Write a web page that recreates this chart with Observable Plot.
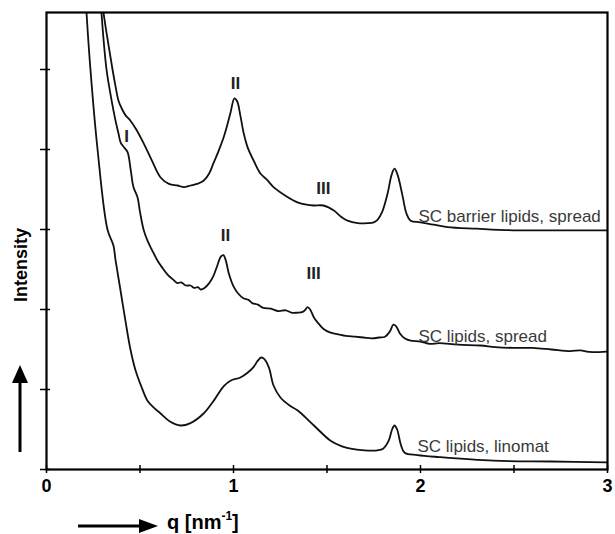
<!DOCTYPE html>
<html><head><meta charset="utf-8">
<script src="https://cdn.jsdelivr.net/npm/d3@7"></script>
<script src="https://cdn.jsdelivr.net/npm/@observablehq/plot@0.6"></script>
<style>body{margin:0;background:#fff} svg{display:block}</style>
</head><body><div id="chart"></div>
<script>
// SC barrier lipids, spread
const qBarrier = [0.29,0.305,0.33,0.353,0.37,0.385,0.405,0.422,0.449,0.48,0.519,0.56,0.61,0.655,0.701,0.735,0.77,0.805,0.84,0.87,0.893,0.92,0.947,0.966,0.984,1.005,1.02,1.037,1.055,1.075,1.11,1.144,1.18,1.214,1.28,1.342,1.39,1.428,1.481,1.535,1.575,1.61,1.665,1.717,1.75,1.77,1.795,1.824,1.845,1.861,1.878,1.904,1.925,1.947,2.0,2.07,2.144,2.3,2.497,2.75,3.0];
const iBarrier = [6.1,5.71,5.33,5.0,4.78,4.61,4.50,4.43,4.36,4.25,4.08,3.88,3.65,3.57,3.55,3.53,3.55,3.57,3.61,3.70,3.83,3.98,4.15,4.30,4.46,4.64,4.60,4.42,4.20,4.03,3.85,3.70,3.62,3.53,3.42,3.34,3.31,3.30,3.30,3.24,3.16,3.11,3.08,3.08,3.09,3.12,3.22,3.45,3.68,3.76,3.68,3.42,3.20,3.11,3.09,3.06,3.03,3.01,2.99,2.99,2.99];
// SC lipids, spread
const qSpread = [0.28,0.294,0.321,0.34,0.358,0.372,0.385,0.396,0.41,0.433,0.45,0.465,0.487,0.50,0.519,0.54,0.565,0.594,0.62,0.65,0.679,0.70,0.72,0.745,0.77,0.79,0.81,0.824,0.845,0.87,0.893,0.915,0.932,0.946,0.958,0.975,1.0,1.025,1.053,1.08,1.10,1.13,1.16,1.20,1.24,1.28,1.31,1.342,1.37,1.385,1.396,1.41,1.43,1.449,1.48,1.519,1.56,1.60,1.65,1.695,1.74,1.78,1.81,1.835,1.855,1.87,1.89,1.915,1.947,2.0,2.05,2.1,2.2,2.321,2.4,2.5,2.6,2.7,2.8,2.856,2.9,3.0];
const iSpread = [6.3,5.71,5.0,4.72,4.49,4.33,4.20,4.09,4.04,3.97,3.75,3.53,3.40,3.22,3.00,2.86,2.74,2.61,2.52,2.43,2.37,2.33,2.34,2.30,2.30,2.27,2.28,2.25,2.27,2.33,2.42,2.56,2.66,2.68,2.62,2.45,2.29,2.20,2.14,2.12,2.08,2.06,2.02,2.01,1.98,1.99,1.96,1.96,1.97,2.00,2.03,2.00,1.90,1.84,1.76,1.71,1.69,1.67,1.66,1.65,1.64,1.65,1.66,1.72,1.81,1.79,1.70,1.64,1.61,1.60,1.57,1.58,1.56,1.55,1.53,1.52,1.52,1.50,1.48,1.49,1.47,1.475];
// SC lipids, linomat
const qLinomat = [0.20,0.214,0.235,0.273,0.326,0.358,0.369,0.395,0.422,0.449,0.476,0.51,0.54,0.575,0.61,0.66,0.717,0.77,0.84,0.90,0.947,0.984,1.037,1.075,1.107,1.13,1.148,1.165,1.19,1.214,1.251,1.30,1.342,1.43,1.519,1.58,1.626,1.70,1.77,1.80,1.83,1.848,1.861,1.875,1.895,1.915,1.984,2.1,2.39,2.7,3.0];
const iLinomat = [6.3,5.71,5.0,4.0,3.0,2.80,2.62,2.25,1.86,1.50,1.24,1.02,0.86,0.77,0.70,0.60,0.55,0.58,0.70,0.88,1.04,1.11,1.15,1.21,1.28,1.36,1.40,1.38,1.27,1.05,0.90,0.80,0.74,0.55,0.36,0.29,0.26,0.24,0.24,0.26,0.36,0.50,0.55,0.50,0.31,0.21,0.18,0.155,0.11,0.10,0.09];

const xMajorTicks = [0, 1, 2, 3];
const xMinorTicks = [0.5, 1.5, 2.5];
const yTicks = [0, 1, 2, 3, 4, 5];

const peakLabels = ["II", "III", "II", "III", "I"];
const peakQ = [1.011, 1.481, 0.957, 1.428, 0.428];
const peakI = [4.825, 3.51, 2.925, 2.45, 4.16];

const curveNames = ["SC barrier lipids, spread", "SC lipids, spread", "SC lipids, linomat"];
const curveLabelQ = [1.989, 1.989, 1.984];
const curveLabelI = [3.09, 1.60, 0.225];

const mk = (qs, is) => qs.map((q, k) => ({q, v: is[k]}));
const series = [mk(qBarrier, iBarrier), mk(qSpread, iSpread), mk(qLinomat, iLinomat)];
const peaks = peakLabels.map((t, k) => ({t, q: peakQ[k], v: peakI[k]}));
const curveLabels = curveNames.map((t, k) => ({t, q: curveLabelQ[k], v: curveLabelI[k]}));

const font = "'Liberation Sans', Arial, sans-serif";
const W = 615, H = 534, mL = 46, mR = 8, mT = 12, mB = 65;
const yMax = (H - mT - mB) / 80;

const plot = Plot.plot({
  width: W, height: H,
  marginLeft: mL, marginRight: mR, marginTop: mT, marginBottom: mB,
  style: {fontFamily: font, background: "#fff", color: "#000"},
  x: {domain: [0, 3], axis: null},
  y: {domain: [0, yMax], axis: null},
  marks: [
    ...series.map(s => Plot.line(s, {x: "q", y: "v", stroke: "#111", strokeWidth: 1.8, curve: "catmull-rom", clip: true})),
    Plot.text(peaks, {x: "q", y: "v", text: "t", fontSize: 17, fontWeight: "bold", fill: "#222"}),
    Plot.text(curveLabels, {x: "q", y: "v", text: "t", fontSize: 17, textAnchor: "start", lineAnchor: "bottom", fill: "#3a3a3a"}),
    // ticks crossing the axes
    Plot.ruleX([...xMajorTicks, ...xMinorTicks], {x: d => d, y1: 0, y2: 0, insetTop: -4, insetBottom: -4, stroke: "#000", strokeWidth: 1.5}),
    Plot.ruleY(yTicks, {y: d => d, x1: 0, x2: 0, insetLeft: -6, insetRight: -4, stroke: "#000", strokeWidth: 1.5}),
    Plot.axisX(xMajorTicks, {tickSize: 0, tickPadding: 10, fontSize: 18, fontWeight: "bold", label: null, fill: "#000", tickFormat: d => String(d)}),
    Plot.frame({stroke: "#000", strokeWidth: 2.2})
  ]
});

const svg = d3.select(plot);
// y axis title and arrow
svg.append("text").attr("transform", "translate(27,265) rotate(-90)")
  .attr("text-anchor", "middle").attr("font-family", font).attr("font-size", 18)
  .attr("font-weight", "bold").text("Intensity");
svg.append("line").attr("x1", 20).attr("x2", 20).attr("y1", 452).attr("y2", 378)
  .attr("stroke", "#000").attr("stroke-width", 3);
svg.append("path").attr("d", "M20,365 L12,383 L28,383 Z").attr("fill", "#000");
// x axis title and arrow
svg.append("line").attr("x1", 78).attr("x2", 142).attr("y1", 526).attr("y2", 526)
  .attr("stroke", "#000").attr("stroke-width", 3);
svg.append("path").attr("d", "M158,526 L139,519 L139,533 Z").attr("fill", "#000");
const xt = svg.append("text").attr("x", 167).attr("y", 529).attr("font-family", font)
  .attr("text-anchor", "start").attr("font-size", 20).attr("font-weight", "bold");
xt.append("tspan").text("q [nm");
xt.append("tspan").attr("font-size", 12).attr("dy", -9).text("-1");
xt.append("tspan").attr("dy", 9).text("]");

document.getElementById("chart").appendChild(plot);
</script>
</body></html>
